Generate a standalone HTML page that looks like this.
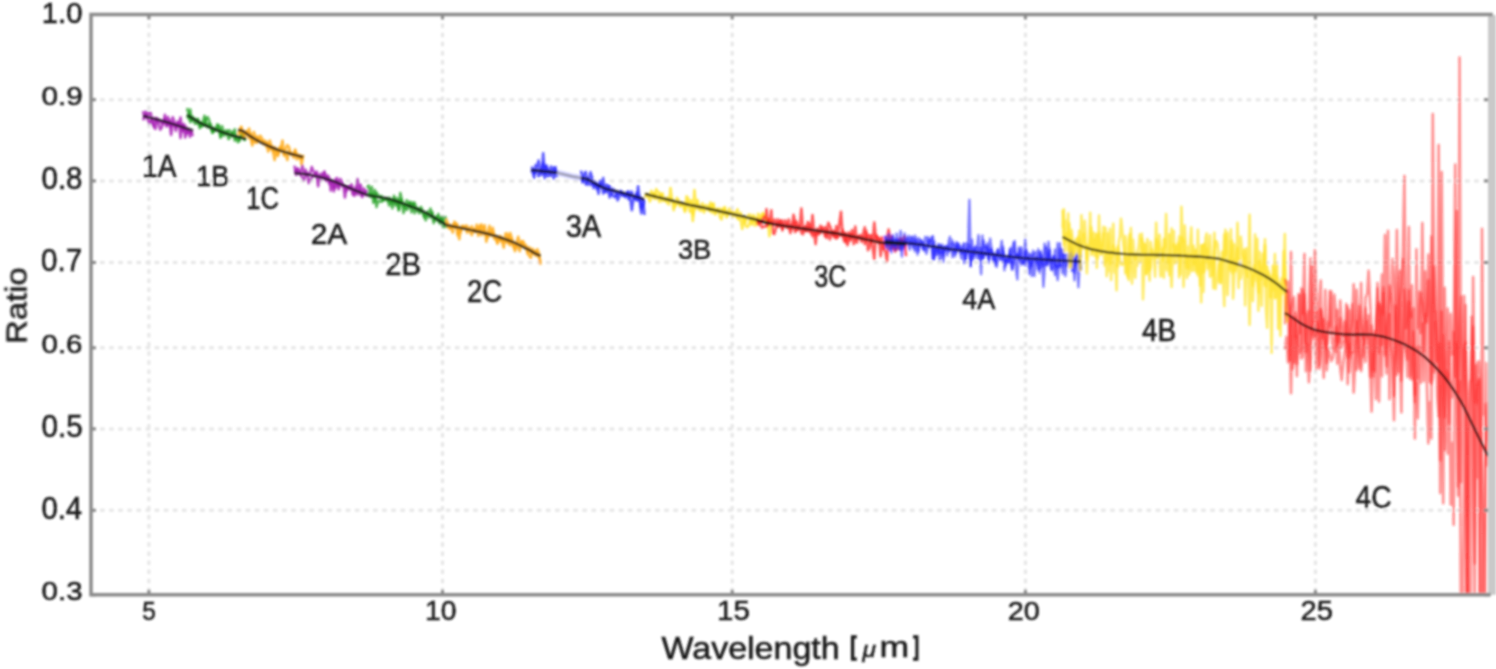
<!DOCTYPE html>
<html><head><meta charset="utf-8"><style>
html,body{margin:0;padding:0;background:#fff;width:1496px;height:669px;overflow:hidden}
svg{display:block;font-family:"Liberation Sans",sans-serif}
.g{stroke:#e5e5e5;stroke-width:3;stroke-dasharray:4.5 4.6}
.n{fill:none;stroke-linejoin:round}
.f{fill:none;stroke:#111;stroke-opacity:0.82}
.t{stroke:#888;stroke-width:3}
.sp{fill:none;stroke:#8a8a8a;stroke-width:3.5;stroke-linecap:square}
.tx{font-size:31px;fill:#181818;stroke:#181818;stroke-width:0.5}
</style></head><body>
<svg width="1496" height="669" viewBox="0 0 1496 669">
<defs><filter id="bl" x="-2%" y="-2%" width="104%" height="104%"><feGaussianBlur stdDeviation="0.8"/></filter>
<clipPath id="cp"><rect x="91.0" y="14.5" width="1398.0" height="580.3"/></clipPath></defs>
<rect width="1496" height="669" fill="#fff"/>
<g filter="url(#bl)">
<line x1="91.0" y1="99.7" x2="1489.0" y2="99.7" class="g"/>
<line x1="91.0" y1="180.9" x2="1489.0" y2="180.9" class="g"/>
<line x1="91.0" y1="262.5" x2="1489.0" y2="262.5" class="g"/>
<line x1="91.0" y1="347.8" x2="1489.0" y2="347.8" class="g"/>
<line x1="91.0" y1="428.9" x2="1489.0" y2="428.9" class="g"/>
<line x1="91.0" y1="510.3" x2="1489.0" y2="510.3" class="g"/>
<line x1="148.9" y1="14.5" x2="148.9" y2="594.8" class="g"/>
<line x1="442.5" y1="14.5" x2="442.5" y2="594.8" class="g"/>
<line x1="732.2" y1="14.5" x2="732.2" y2="594.8" class="g"/>
<line x1="1025.4" y1="14.5" x2="1025.4" y2="594.8" class="g"/>
<line x1="1315.4" y1="14.5" x2="1315.4" y2="594.8" class="g"/>
<g clip-path="url(#cp)">
<path d="M143.0,111.1 L144.6,117.7 L146.1,111.6 L147.7,116.8 L149.2,112.8 L150.8,113.0 L152.4,124.1 L153.9,127.3 L155.5,128.9 L157.1,118.4 L158.6,120.3 L160.2,121.6 L161.8,123.2 L163.3,123.9 L164.9,114.9 L166.4,124.8 L168.0,117.0 L169.6,123.1 L171.1,134.9 L172.7,123.9 L174.2,123.4 L175.8,127.5 L177.4,125.9 L178.9,122.2 L180.5,137.9 L182.1,125.1 L183.6,131.2 L185.2,125.8 L186.8,133.4 L188.3,131.5 L189.9,132.5 L191.4,131.9 L193.0,132.7" stroke="#a61cb4" stroke-opacity="0.8" stroke-width="2.6" class="n"/>
<path d="M143.0,120.2 L144.6,116.9 L146.1,114.4 L147.7,119.3 L149.2,123.2 L150.8,120.8 L152.4,120.9 L153.9,125.4 L155.5,117.9 L157.1,120.5 L158.6,123.6 L160.2,129.6 L161.8,127.5 L163.3,121.7 L164.9,118.3 L166.4,126.4 L168.0,125.3 L169.6,120.2 L171.1,126.6 L172.7,117.2 L174.2,121.1 L175.8,130.9 L177.4,121.7 L178.9,125.4 L180.5,117.5 L182.1,130.9 L183.6,124.1 L185.2,137.5 L186.8,130.9 L188.3,128.8 L189.9,136.7 L191.4,132.8 L193.0,136.0" stroke="#a61cb4" stroke-opacity="0.8" stroke-width="2.6" class="n"/>
<path d="M187.0,108.1 L188.6,113.3 L190.2,122.1 L191.8,116.7 L193.4,117.7 L195.0,120.4 L196.6,119.0 L198.2,120.9 L199.8,128.1 L201.4,122.7 L202.9,125.6 L204.5,125.7 L206.1,118.9 L207.7,117.1 L209.3,120.9 L210.9,128.4 L212.5,132.7 L214.1,131.2 L215.7,129.2 L217.3,124.4 L218.9,127.5 L220.5,136.2 L222.1,126.3 L223.7,136.0 L225.3,130.6 L226.9,131.1 L228.5,139.0 L230.1,137.4 L231.6,134.7 L233.2,132.0 L234.8,129.4 L236.4,139.2 L238.0,142.1 L239.6,138.3 L241.2,136.4 L242.8,134.0 L244.4,138.6 L246.0,139.6" stroke="#1c9c1c" stroke-opacity="0.75" stroke-width="2.6" class="n"/>
<path d="M187.0,115.7 L188.6,118.2 L190.2,109.5 L191.8,120.8 L193.4,120.2 L195.0,123.7 L196.6,123.6 L198.2,119.2 L199.8,125.5 L201.4,126.7 L202.9,121.9 L204.5,115.9 L206.1,122.7 L207.7,127.3 L209.3,123.9 L210.9,124.6 L212.5,132.6 L214.1,128.0 L215.7,130.5 L217.3,129.5 L218.9,125.3 L220.5,137.8 L222.1,131.3 L223.7,132.9 L225.3,133.9 L226.9,134.6 L228.5,130.4 L230.1,130.7 L231.6,134.2 L233.2,133.4 L234.8,140.4 L236.4,136.9 L238.0,136.5 L239.6,140.9 L241.2,133.0 L242.8,134.0 L244.4,139.9 L246.0,138.1" stroke="#1c9c1c" stroke-opacity="0.75" stroke-width="2.6" class="n"/>
<path d="M238.0,132.9 L239.6,133.2 L241.2,126.9 L242.8,134.6 L244.4,136.1 L246.0,131.7 L247.5,133.0 L249.1,128.5 L250.7,138.4 L252.3,145.5 L253.9,132.0 L255.5,137.9 L257.1,142.5 L258.7,138.4 L260.3,135.8 L261.9,138.2 L263.4,144.1 L265.0,143.1 L266.6,141.8 L268.2,151.6 L269.8,140.5 L271.4,146.7 L273.0,152.1 L274.6,147.1 L276.2,150.0 L277.8,154.4 L279.3,147.4 L280.9,147.3 L282.5,150.0 L284.1,155.3 L285.7,154.2 L287.3,159.9 L288.9,150.9 L290.5,152.6 L292.1,153.4 L293.7,154.0 L295.2,149.5 L296.8,159.4 L298.4,155.4 L300.0,155.0 L301.6,165.1 L303.2,154.9" stroke="#ffaa1a" stroke-opacity="0.85" stroke-width="2.6" class="n"/>
<path d="M238.0,132.8 L239.6,133.1 L241.2,127.1 L242.8,131.6 L244.4,133.9 L246.0,131.1 L247.5,135.2 L249.1,138.0 L250.7,133.2 L252.3,141.7 L253.9,141.8 L255.5,142.6 L257.1,136.3 L258.7,140.4 L260.3,139.8 L261.9,142.4 L263.4,140.6 L265.0,140.8 L266.6,146.9 L268.2,143.7 L269.8,149.3 L271.4,145.4 L273.0,150.7 L274.6,160.0 L276.2,149.6 L277.8,155.9 L279.3,152.3 L280.9,147.4 L282.5,140.5 L284.1,155.2 L285.7,148.9 L287.3,145.1 L288.9,146.8 L290.5,153.5 L292.1,154.7 L293.7,157.7 L295.2,150.7 L296.8,154.0 L298.4,156.9 L300.0,158.7 L301.6,158.3 L303.2,156.4" stroke="#ffaa1a" stroke-opacity="0.85" stroke-width="2.6" class="n"/>
<path d="M294.5,165.6 L296.1,174.9 L297.7,168.7 L299.2,172.4 L300.8,171.1 L302.4,165.8 L304.0,173.7 L305.5,169.8 L307.1,173.7 L308.7,174.6 L310.3,172.6 L311.8,167.1 L313.4,171.5 L315.0,173.0 L316.6,175.8 L318.1,186.1 L319.7,178.8 L321.3,173.5 L322.9,175.4 L324.4,171.5 L326.0,178.5 L327.6,177.6 L329.2,183.7 L330.8,180.5 L332.3,182.0 L333.9,191.4 L335.5,179.1 L337.1,178.1 L338.6,189.3 L340.2,184.0 L341.8,185.5 L343.4,185.2 L344.9,185.6 L346.5,190.9 L348.1,186.0 L349.7,189.4 L351.2,184.0 L352.8,187.8 L354.4,195.8 L356.0,190.4 L357.5,179.0 L359.1,187.9 L360.7,194.9 L362.3,197.0 L363.8,192.7 L365.4,193.5 L367.0,189.7" stroke="#a61cb4" stroke-opacity="0.8" stroke-width="2.6" class="n"/>
<path d="M294.5,171.9 L296.1,169.9 L297.7,168.6 L299.2,173.2 L300.8,175.2 L302.4,177.9 L304.0,180.1 L305.5,174.2 L307.1,173.0 L308.7,183.1 L310.3,179.1 L311.8,178.5 L313.4,175.1 L315.0,175.1 L316.6,171.6 L318.1,175.0 L319.7,175.8 L321.3,177.8 L322.9,179.2 L324.4,172.4 L326.0,181.0 L327.6,175.4 L329.2,177.6 L330.8,190.6 L332.3,180.7 L333.9,188.1 L335.5,187.8 L337.1,180.6 L338.6,185.9 L340.2,179.0 L341.8,181.4 L343.4,185.4 L344.9,197.5 L346.5,188.1 L348.1,187.7 L349.7,186.7 L351.2,187.4 L352.8,194.6 L354.4,193.1 L356.0,187.3 L357.5,194.5 L359.1,191.6 L360.7,184.8 L362.3,195.2 L363.8,188.5 L365.4,191.6 L367.0,196.4" stroke="#a61cb4" stroke-opacity="0.8" stroke-width="2.6" class="n"/>
<path d="M367.0,188.2 L368.6,185.4 L370.2,195.4 L371.8,186.9 L373.4,202.8 L374.9,201.1 L376.5,192.5 L378.1,195.2 L379.7,197.5 L381.3,196.0 L382.9,200.8 L384.5,199.7 L386.1,197.9 L387.6,200.8 L389.2,197.7 L390.8,201.0 L392.4,208.2 L394.0,195.8 L395.6,202.1 L397.2,198.3 L398.8,209.8 L400.3,199.2 L401.9,200.7 L403.5,206.6 L405.1,206.1 L406.7,209.8 L408.3,208.2 L409.9,201.7 L411.5,212.2 L413.1,205.1 L414.6,202.9 L416.2,207.1 L417.8,209.6 L419.4,208.4 L421.0,211.9 L422.6,212.1 L424.2,216.9 L425.8,215.7 L427.3,211.8 L428.9,212.1 L430.5,208.7 L432.1,215.4 L433.7,223.1 L435.3,217.0 L436.9,218.1 L438.5,214.0 L440.0,223.9 L441.6,216.9 L443.2,227.3 L444.8,216.8 L446.4,218.8" stroke="#1c9c1c" stroke-opacity="0.75" stroke-width="2.6" class="n"/>
<path d="M367.0,194.1 L368.6,193.3 L370.2,196.7 L371.8,194.1 L373.4,197.9 L374.9,190.1 L376.5,206.9 L378.1,201.4 L379.7,201.1 L381.3,201.7 L382.9,199.5 L384.5,199.9 L386.1,198.8 L387.6,199.3 L389.2,205.4 L390.8,200.8 L392.4,202.9 L394.0,198.5 L395.6,205.6 L397.2,201.0 L398.8,210.4 L400.3,193.0 L401.9,200.3 L403.5,213.0 L405.1,207.4 L406.7,200.2 L408.3,204.7 L409.9,202.4 L411.5,204.3 L413.1,202.4 L414.6,213.1 L416.2,209.8 L417.8,211.1 L419.4,213.1 L421.0,207.0 L422.6,210.7 L424.2,216.9 L425.8,220.2 L427.3,213.7 L428.9,217.3 L430.5,217.0 L432.1,211.9 L433.7,217.8 L435.3,220.3 L436.9,216.5 L438.5,221.7 L440.0,220.3 L441.6,217.4 L443.2,221.8 L444.8,222.8 L446.4,228.2" stroke="#1c9c1c" stroke-opacity="0.75" stroke-width="2.6" class="n"/>
<path d="M446.4,219.1 L448.0,226.6 L449.6,228.7 L451.2,228.4 L452.8,232.5 L454.4,221.8 L456.0,226.3 L457.6,224.6 L459.2,239.2 L460.8,228.7 L462.3,225.9 L463.9,226.5 L465.5,227.9 L467.1,232.6 L468.7,229.5 L470.3,232.5 L471.9,235.0 L473.5,228.9 L475.1,231.7 L476.7,229.7 L478.3,228.9 L479.9,226.4 L481.5,235.1 L483.1,228.2 L484.7,234.2 L486.3,235.2 L487.9,237.6 L489.5,232.3 L491.1,235.5 L492.7,227.8 L494.2,235.0 L495.8,236.5 L497.4,243.7 L499.0,236.3 L500.6,241.2 L502.2,238.6 L503.8,241.8 L505.4,241.7 L507.0,242.4 L508.6,235.5 L510.2,245.3 L511.8,238.7 L513.4,246.4 L515.0,248.0 L516.6,242.0 L518.2,236.8 L519.8,243.3 L521.4,244.0 L523.0,241.1 L524.6,244.6 L526.1,245.4 L527.7,252.8 L529.3,256.0 L530.9,257.8 L532.5,248.8 L534.1,251.5 L535.7,255.9 L537.3,249.3 L538.9,253.1 L540.5,264.8" stroke="#ffaa1a" stroke-opacity="0.85" stroke-width="2.6" class="n"/>
<path d="M446.4,226.2 L448.0,223.2 L449.6,228.0 L451.2,226.5 L452.8,224.6 L454.4,223.9 L456.0,223.2 L457.6,235.3 L459.2,229.0 L460.8,232.1 L462.3,226.1 L463.9,227.6 L465.5,225.7 L467.1,225.9 L468.7,228.5 L470.3,228.0 L471.9,226.3 L473.5,231.3 L475.1,231.2 L476.7,224.7 L478.3,235.7 L479.9,225.4 L481.5,224.5 L483.1,229.3 L484.7,225.3 L486.3,241.7 L487.9,232.6 L489.5,225.9 L491.1,234.8 L492.7,231.8 L494.2,238.7 L495.8,239.2 L497.4,242.5 L499.0,239.1 L500.6,236.2 L502.2,241.9 L503.8,247.6 L505.4,233.7 L507.0,233.4 L508.6,243.9 L510.2,233.0 L511.8,238.1 L513.4,245.9 L515.0,251.2 L516.6,243.8 L518.2,247.9 L519.8,251.1 L521.4,241.3 L523.0,244.3 L524.6,246.9 L526.1,246.7 L527.7,253.8 L529.3,247.3 L530.9,251.5 L532.5,254.0 L534.1,251.1 L535.7,251.0 L537.3,254.9 L538.9,257.0 L540.5,261.8" stroke="#ffaa1a" stroke-opacity="0.85" stroke-width="2.6" class="n"/>
<path d="M531.0,172.2 L532.5,170.9 L534.1,177.9 L535.6,165.1 L537.1,167.0 L538.6,160.6 L540.2,171.6 L541.7,175.0 L543.2,153.4 L544.8,174.4 L546.3,166.8 L547.8,176.6 L549.4,172.4 L550.9,175.9 L552.4,171.1 L553.9,178.8 L555.5,167.3 L557.0,177.4" stroke="#2424ff" stroke-opacity="0.75" stroke-width="2.6" class="n"/>
<path d="M531.0,167.1 L532.5,168.0 L534.1,173.6 L535.6,172.5 L537.1,169.6 L538.6,176.5 L540.2,172.1 L541.7,171.0 L543.2,163.3 L544.8,178.4 L546.3,165.3 L547.8,169.4 L549.4,173.0 L550.9,166.6 L552.4,170.0 L553.9,167.3 L555.5,173.0 L557.0,170.0" stroke="#2424ff" stroke-opacity="0.75" stroke-width="2.6" class="n"/>
<path d="M581.0,170.6 L582.6,181.2 L584.2,179.0 L585.8,184.2 L587.4,178.1 L588.9,180.0 L590.5,172.3 L592.1,177.5 L593.7,188.1 L595.3,184.2 L596.9,183.8 L598.5,193.8 L600.0,180.9 L601.6,184.6 L603.2,193.5 L604.8,191.7 L606.4,184.7 L608.0,185.4 L609.6,197.4 L611.2,194.9 L612.8,194.5 L614.3,197.2 L615.9,195.9 L617.5,193.5 L619.1,193.5 L620.7,192.2 L622.3,195.6 L623.9,193.1 L625.5,197.2 L627.0,195.0 L628.6,191.3 L630.2,197.6 L631.8,210.2 L633.4,199.4 L635.0,196.8 L636.6,200.6 L638.1,186.2 L639.7,200.7 L641.3,213.4 L642.9,198.2 L644.5,215.0" stroke="#2424ff" stroke-opacity="0.75" stroke-width="2.6" class="n"/>
<path d="M581.0,176.7 L582.6,182.3 L584.2,173.9 L585.8,171.9 L587.4,184.9 L588.9,181.0 L590.5,185.0 L592.1,183.3 L593.7,185.3 L595.3,181.7 L596.9,189.3 L598.5,187.5 L600.0,183.9 L601.6,185.5 L603.2,178.1 L604.8,189.9 L606.4,192.3 L608.0,188.6 L609.6,186.1 L611.2,194.4 L612.8,188.8 L614.3,191.8 L615.9,190.8 L617.5,200.3 L619.1,197.1 L620.7,190.9 L622.3,192.7 L623.9,196.0 L625.5,195.4 L627.0,192.2 L628.6,199.3 L630.2,194.0 L631.8,191.7 L633.4,197.9 L635.0,199.0 L636.6,192.8 L638.1,200.1 L639.7,196.7 L641.3,208.6 L642.9,206.0 L644.5,200.7" stroke="#2424ff" stroke-opacity="0.75" stroke-width="2.6" class="n"/>
<path d="M645.0,197.5 L646.6,193.9 L648.2,196.1 L649.8,201.5 L651.4,197.7 L653.0,193.7 L654.6,192.6 L656.2,198.6 L657.8,194.8 L659.4,201.9 L660.9,194.1 L662.5,201.1 L664.1,198.9 L665.7,201.0 L667.3,202.8 L668.9,204.4 L670.5,188.0 L672.1,199.9 L673.7,210.2 L675.3,203.2 L676.9,197.9 L678.5,199.9 L680.1,206.6 L681.7,203.7 L683.3,203.0 L684.9,210.1 L686.5,196.4 L688.1,197.7 L689.7,211.7 L691.3,202.7 L692.8,221.0 L694.4,208.2 L696.0,209.2 L697.6,200.0 L699.2,210.1 L700.8,210.9 L702.4,209.8 L704.0,207.4 L705.6,205.1 L707.2,205.7 L708.8,206.4 L710.4,211.1 L712.0,203.9 L713.6,208.1 L715.2,214.0 L716.8,209.9 L718.4,208.4 L720.0,217.5 L721.6,219.3 L723.2,210.3 L724.7,207.0 L726.3,213.1 L727.9,213.1 L729.5,208.3 L731.1,212.6 L732.7,216.5 L734.3,216.0 L735.9,215.5 L737.5,218.7 L739.1,218.6 L740.7,220.4 L742.3,228.9 L743.9,216.6 L745.5,222.1 L747.1,216.8 L748.7,214.7 L750.3,214.7 L751.9,224.8 L753.5,215.1 L755.1,217.7 L756.6,223.5 L758.2,213.7 L759.8,219.2 L761.4,215.0 L763.0,213.0 L764.6,216.9 L766.2,220.8 L767.8,219.0 L769.4,236.1 L771.0,218.9" stroke="#ffe326" stroke-opacity="0.8" stroke-width="2.6" class="n"/>
<path d="M645.0,194.9 L646.6,195.2 L648.2,196.9 L649.8,195.0 L651.4,190.9 L653.0,194.7 L654.6,198.9 L656.2,189.1 L657.8,191.9 L659.4,192.7 L660.9,196.1 L662.5,193.4 L664.1,199.7 L665.7,200.9 L667.3,197.4 L668.9,200.3 L670.5,198.2 L672.1,199.8 L673.7,201.8 L675.3,206.3 L676.9,203.4 L678.5,202.8 L680.1,205.1 L681.7,204.4 L683.3,206.0 L684.9,211.9 L686.5,207.6 L688.1,200.6 L689.7,201.7 L691.3,200.4 L692.8,214.5 L694.4,190.0 L696.0,205.3 L697.6,203.9 L699.2,208.0 L700.8,208.3 L702.4,203.2 L704.0,212.5 L705.6,208.7 L707.2,208.3 L708.8,210.6 L710.4,202.6 L712.0,212.9 L713.6,203.5 L715.2,214.3 L716.8,209.3 L718.4,211.8 L720.0,210.8 L721.6,208.6 L723.2,214.7 L724.7,208.5 L726.3,217.3 L727.9,216.2 L729.5,211.4 L731.1,213.7 L732.7,211.3 L734.3,213.4 L735.9,212.5 L737.5,209.2 L739.1,219.2 L740.7,212.9 L742.3,218.4 L743.9,219.1 L745.5,225.4 L747.1,227.1 L748.7,225.7 L750.3,219.1 L751.9,222.9 L753.5,218.1 L755.1,225.7 L756.6,221.5 L758.2,223.9 L759.8,218.0 L761.4,218.1 L763.0,215.0 L764.6,216.2 L766.2,217.1 L767.8,222.8 L769.4,221.8 L771.0,219.7" stroke="#ffe326" stroke-opacity="0.8" stroke-width="2.6" class="n"/>
<path d="M757.0,218.1 L758.6,222.9 L760.2,220.1 L761.8,221.4 L763.3,217.0 L764.9,219.0 L766.5,209.3 L768.1,225.7 L769.7,222.2 L771.3,210.3 L772.9,233.4 L774.4,233.9 L776.0,228.0 L777.6,219.4 L779.2,226.7 L780.8,220.3 L782.4,230.4 L783.9,220.7 L785.5,220.8 L787.1,227.9 L788.7,225.3 L790.3,233.1 L791.9,228.2 L793.5,222.1 L795.0,232.1 L796.6,221.6 L798.2,228.6 L799.8,225.7 L801.4,208.6 L803.0,229.5 L804.6,230.9 L806.1,231.0 L807.7,222.1 L809.3,223.1 L810.9,231.5 L812.5,236.1 L814.1,232.4 L815.6,244.1 L817.2,228.6 L818.8,234.3 L820.4,225.7 L822.0,227.2 L823.6,229.9 L825.2,227.1 L826.7,237.9 L828.3,230.1 L829.9,239.5 L831.5,232.5 L833.1,231.3 L834.7,237.6 L836.3,226.0 L837.8,237.6 L839.4,223.3 L841.0,211.8 L842.6,235.1 L844.2,241.3 L845.8,233.1 L847.4,245.3 L848.9,240.5 L850.5,234.3 L852.1,234.9 L853.7,237.4 L855.3,226.6 L856.9,242.7 L858.4,236.2 L860.0,235.1 L861.6,242.0 L863.2,236.6 L864.8,244.1 L866.4,231.4 L868.0,250.1 L869.5,247.6 L871.1,235.4 L872.7,247.7 L874.3,259.2 L875.9,234.8 L877.5,237.6 L879.1,243.2 L880.6,239.4 L882.2,237.2 L883.8,248.9 L885.4,242.8 L887.0,238.4 L888.6,229.6 L890.1,238.1 L891.7,248.7 L893.3,245.2 L894.9,249.4 L896.5,243.8 L898.1,242.0 L899.7,238.6 L901.2,238.8 L902.8,243.2 L904.4,236.4 L906.0,256.2" stroke="#ff2424" stroke-opacity="0.75" stroke-width="2.6" class="n"/>
<path d="M757.0,221.4 L758.6,224.9 L760.2,221.8 L761.8,227.5 L763.3,226.9 L764.9,226.3 L766.5,226.6 L768.1,219.3 L769.7,223.0 L771.3,222.3 L772.9,224.7 L774.4,219.7 L776.0,222.8 L777.6,226.3 L779.2,223.0 L780.8,220.3 L782.4,229.0 L783.9,225.3 L785.5,226.4 L787.1,225.6 L788.7,219.5 L790.3,228.9 L791.9,227.3 L793.5,214.8 L795.0,220.6 L796.6,230.7 L798.2,229.5 L799.8,225.6 L801.4,232.9 L803.0,234.1 L804.6,226.9 L806.1,226.1 L807.7,231.6 L809.3,226.3 L810.9,233.3 L812.5,215.0 L814.1,232.3 L815.6,235.6 L817.2,232.8 L818.8,231.3 L820.4,233.2 L822.0,228.2 L823.6,232.0 L825.2,236.5 L826.7,232.7 L828.3,222.8 L829.9,226.2 L831.5,230.2 L833.1,235.8 L834.7,231.1 L836.3,238.4 L837.8,235.7 L839.4,234.7 L841.0,235.7 L842.6,230.0 L844.2,233.3 L845.8,242.5 L847.4,237.7 L848.9,232.3 L850.5,240.3 L852.1,230.1 L853.7,244.2 L855.3,239.5 L856.9,236.8 L858.4,237.0 L860.0,237.7 L861.6,238.2 L863.2,233.2 L864.8,227.3 L866.4,240.7 L868.0,235.0 L869.5,235.5 L871.1,242.6 L872.7,240.7 L874.3,222.5 L875.9,238.6 L877.5,236.9 L879.1,238.0 L880.6,256.2 L882.2,244.1 L883.8,248.9 L885.4,251.8 L887.0,261.2 L888.6,239.3 L890.1,245.9 L891.7,236.6 L893.3,244.1 L894.9,251.6 L896.5,249.9 L898.1,245.6 L899.7,249.3 L901.2,239.4 L902.8,241.2 L904.4,247.4 L906.0,240.8" stroke="#ff2424" stroke-opacity="0.75" stroke-width="2.6" class="n"/>
<path d="M885.0,245.4 L886.3,240.6 L887.6,240.7 L888.9,249.5 L890.2,250.2 L891.5,245.4 L892.8,235.3 L894.1,244.8 L895.4,246.8 L896.7,239.1 L898.0,242.3 L899.3,240.0 L900.6,250.3 L901.9,244.4 L903.2,241.2 L904.5,245.5 L905.8,243.8 L907.1,240.9 L908.4,245.3 L909.7,249.6 L911.0,244.2 L912.3,236.7 L913.6,241.9 L914.9,239.3 L916.2,241.4 L917.5,254.6 L918.7,244.4 L920.0,245.7 L921.3,243.7 L922.6,249.0 L923.9,244.5 L925.2,249.8 L926.5,247.8 L927.8,243.4 L929.1,240.7 L930.4,241.8 L931.7,239.8 L933.0,236.2 L934.3,259.2 L935.6,251.4 L936.9,247.8 L938.2,253.5 L939.5,253.9 L940.8,245.5 L942.1,249.5 L943.4,262.2 L944.7,247.1 L946.0,246.7 L947.3,246.1 L948.6,247.8 L949.9,250.5 L951.2,247.8 L952.5,257.0 L953.8,251.0 L955.1,256.2 L956.4,242.2 L957.7,246.6 L959.0,249.7 L960.3,246.7 L961.6,250.6 L962.9,248.5 L964.2,251.1 L965.5,259.0 L966.8,250.0 L968.1,246.8 L969.4,200.0 L970.7,265.9 L972.0,247.8 L973.3,259.7 L974.6,253.2 L975.9,246.3 L977.2,247.3 L978.5,235.2 L979.8,251.0 L981.1,274.1 L982.4,235.6 L983.6,258.6 L984.9,245.6 L986.2,255.0 L987.5,243.1 L988.8,259.5 L990.1,238.6 L991.4,247.9 L992.7,260.5 L994.0,254.0 L995.3,265.1 L996.6,252.0 L997.9,249.3 L999.2,257.4 L1000.5,259.6 L1001.8,257.2 L1003.1,250.5 L1004.4,255.5 L1005.7,266.0 L1007.0,258.7 L1008.3,261.9 L1009.6,255.3 L1010.9,247.7 L1012.2,269.3 L1013.5,263.8 L1014.8,241.1 L1016.1,270.4 L1017.4,279.3 L1018.7,247.5 L1020.0,261.4 L1021.3,247.2 L1022.6,254.2 L1023.9,262.9 L1025.2,239.3 L1026.5,260.7 L1027.8,256.7 L1029.1,260.7 L1030.4,263.5 L1031.7,276.0 L1033.0,250.7 L1034.3,276.0 L1035.6,264.5 L1036.9,257.7 L1038.2,269.8 L1039.5,252.2 L1040.8,257.0 L1042.1,262.7 L1043.4,264.7 L1044.7,265.4 L1046.0,258.2 L1047.3,265.2 L1048.5,251.6 L1049.8,257.8 L1051.1,263.6 L1052.4,259.2 L1053.7,256.0 L1055.0,275.0 L1056.3,264.8 L1057.6,267.5 L1058.9,267.2 L1060.2,243.1 L1061.5,266.6 L1062.8,254.4 L1064.1,262.8 L1065.4,260.5 L1066.7,266.3 L1068.0,262.7 L1069.3,261.4 L1070.6,262.9 L1071.9,251.0 L1073.2,261.2 L1074.5,280.4 L1075.8,262.0 L1077.1,256.4 L1078.4,256.8 L1079.7,258.8 L1081.0,270.1" stroke="#2424ff" stroke-opacity="0.6" stroke-width="2.4" class="n"/>
<path d="M885.0,235.6 L886.3,244.2 L887.6,244.4 L888.9,239.5 L890.2,243.7 L891.5,239.6 L892.8,241.0 L894.1,244.9 L895.4,239.4 L896.7,240.6 L898.0,248.7 L899.3,246.9 L900.6,230.9 L901.9,242.8 L903.2,248.9 L904.5,242.9 L905.8,239.1 L907.1,238.8 L908.4,235.8 L909.7,244.2 L911.0,241.4 L912.3,244.4 L913.6,248.4 L914.9,235.7 L916.2,238.5 L917.5,244.1 L918.7,238.3 L920.0,245.0 L921.3,239.9 L922.6,244.8 L923.9,250.1 L925.2,237.0 L926.5,241.7 L927.8,236.9 L929.1,247.0 L930.4,242.9 L931.7,247.4 L933.0,259.1 L934.3,241.4 L935.6,255.3 L936.9,254.6 L938.2,244.1 L939.5,260.1 L940.8,258.1 L942.1,251.4 L943.4,256.3 L944.7,246.3 L946.0,246.5 L947.3,255.4 L948.6,241.9 L949.9,237.0 L951.2,243.6 L952.5,240.5 L953.8,253.3 L955.1,251.0 L956.4,246.1 L957.7,247.8 L959.0,243.9 L960.3,253.8 L961.6,258.7 L962.9,244.5 L964.2,263.4 L965.5,259.4 L966.8,248.9 L968.1,249.1 L969.4,256.1 L970.7,264.4 L972.0,254.8 L973.3,251.9 L974.6,247.8 L975.9,252.7 L977.2,258.6 L978.5,248.3 L979.8,259.6 L981.1,247.9 L982.4,256.9 L983.6,256.8 L984.9,252.7 L986.2,254.3 L987.5,246.3 L988.8,258.6 L990.1,251.5 L991.4,250.5 L992.7,253.8 L994.0,260.4 L995.3,262.8 L996.6,254.2 L997.9,250.0 L999.2,253.5 L1000.5,249.1 L1001.8,240.9 L1003.1,259.0 L1004.4,261.8 L1005.7,258.9 L1007.0,262.3 L1008.3,262.7 L1009.6,249.4 L1010.9,263.6 L1012.2,269.5 L1013.5,260.8 L1014.8,256.1 L1016.1,257.6 L1017.4,254.6 L1018.7,258.4 L1020.0,249.4 L1021.3,258.8 L1022.6,263.3 L1023.9,263.1 L1025.2,251.7 L1026.5,257.9 L1027.8,257.9 L1029.1,273.9 L1030.4,254.1 L1031.7,265.7 L1033.0,254.1 L1034.3,254.2 L1035.6,252.0 L1036.9,261.9 L1038.2,249.3 L1039.5,272.7 L1040.8,251.4 L1042.1,267.2 L1043.4,256.9 L1044.7,243.8 L1046.0,250.9 L1047.3,265.0 L1048.5,241.9 L1049.8,255.4 L1051.1,269.6 L1052.4,261.1 L1053.7,256.6 L1055.0,257.1 L1056.3,267.1 L1057.6,280.0 L1058.9,268.2 L1060.2,248.9 L1061.5,257.9 L1062.8,249.5 L1064.1,260.6 L1065.4,275.8 L1066.7,266.0 L1068.0,260.6 L1069.3,258.5 L1070.6,244.3 L1071.9,253.1 L1073.2,259.7 L1074.5,272.6 L1075.8,254.9 L1077.1,257.9 L1078.4,264.1 L1079.7,240.5 L1081.0,257.5" stroke="#2424ff" stroke-opacity="0.6" stroke-width="2.4" class="n"/>
<path d="M885.0,235.9 L886.3,247.9 L887.6,238.5 L888.9,234.2 L890.2,240.8 L891.5,252.5 L892.8,236.5 L894.1,247.2 L895.4,250.3 L896.7,233.6 L898.0,243.8 L899.3,243.8 L900.6,241.9 L901.9,256.5 L903.2,247.1 L904.5,233.5 L905.8,241.5 L907.1,238.6 L908.4,238.8 L909.7,244.1 L911.0,237.0 L912.3,240.6 L913.6,245.1 L914.9,251.3 L916.2,241.0 L917.5,249.2 L918.7,251.5 L920.0,240.5 L921.3,243.7 L922.6,241.4 L923.9,245.9 L925.2,250.5 L926.5,253.7 L927.8,248.2 L929.1,239.0 L930.4,241.7 L931.7,236.9 L933.0,259.5 L934.3,252.3 L935.6,247.9 L936.9,249.1 L938.2,251.4 L939.5,244.8 L940.8,253.5 L942.1,244.7 L943.4,252.4 L944.7,248.3 L946.0,249.6 L947.3,248.4 L948.6,251.7 L949.9,244.3 L951.2,248.9 L952.5,243.5 L953.8,243.9 L955.1,245.0 L956.4,253.0 L957.7,243.3 L959.0,249.0 L960.3,250.6 L961.6,253.5 L962.9,253.2 L964.2,243.3 L965.5,259.2 L966.8,243.3 L968.1,251.2 L969.4,245.2 L970.7,266.4 L972.0,239.8 L973.3,256.5 L974.6,254.5 L975.9,247.4 L977.2,252.0 L978.5,255.4 L979.8,252.5 L981.1,257.2 L982.4,258.8 L983.6,240.5 L984.9,248.1 L986.2,247.1 L987.5,249.5 L988.8,263.0 L990.1,248.9 L991.4,249.1 L992.7,253.0 L994.0,260.0 L995.3,255.4 L996.6,266.9 L997.9,261.1 L999.2,252.7 L1000.5,254.5 L1001.8,260.8 L1003.1,246.9 L1004.4,270.2 L1005.7,259.3 L1007.0,261.1 L1008.3,257.4 L1009.6,254.6 L1010.9,262.6 L1012.2,251.3 L1013.5,242.4 L1014.8,251.6 L1016.1,255.0 L1017.4,256.6 L1018.7,253.7 L1020.0,258.2 L1021.3,264.7 L1022.6,263.0 L1023.9,260.3 L1025.2,265.7 L1026.5,250.2 L1027.8,254.1 L1029.1,254.0 L1030.4,268.1 L1031.7,262.4 L1033.0,260.8 L1034.3,259.5 L1035.6,257.2 L1036.9,263.5 L1038.2,263.6 L1039.5,268.8 L1040.8,254.9 L1042.1,257.5 L1043.4,286.7 L1044.7,268.2 L1046.0,247.3 L1047.3,263.3 L1048.5,260.9 L1049.8,249.4 L1051.1,267.6 L1052.4,270.3 L1053.7,266.7 L1055.0,249.7 L1056.3,267.6 L1057.6,243.2 L1058.9,266.3 L1060.2,265.6 L1061.5,264.7 L1062.8,273.6 L1064.1,254.3 L1065.4,259.3 L1066.7,254.1 L1068.0,260.1 L1069.3,257.6 L1070.6,254.1 L1071.9,271.0 L1073.2,255.2 L1074.5,266.1 L1075.8,259.9 L1077.1,253.7 L1078.4,287.1 L1079.7,260.2 L1081.0,269.6" stroke="#2424ff" stroke-opacity="0.6" stroke-width="2.4" class="n"/>
<path d="M1062.7,227.8 L1063.8,209.4 L1064.9,251.5 L1066.0,220.9 L1067.1,237.7 L1068.2,213.6 L1069.3,267.7 L1070.4,233.8 L1071.5,266.9 L1072.6,242.1 L1073.7,251.1 L1074.8,253.9 L1075.9,244.8 L1077.0,239.7 L1078.1,236.8 L1079.2,261.7 L1080.3,270.3 L1081.4,215.2 L1082.5,243.5 L1083.6,238.7 L1084.7,220.7 L1085.8,237.7 L1086.9,260.0 L1088.0,248.4 L1089.1,245.3 L1090.2,245.0 L1091.3,227.4 L1092.4,252.0 L1093.5,239.1 L1094.6,255.7 L1095.7,249.4 L1096.8,235.0 L1097.9,258.0 L1099.0,215.5 L1100.1,253.0 L1101.2,254.4 L1102.3,249.2 L1103.4,233.5 L1104.5,265.4 L1105.6,254.2 L1106.7,261.6 L1107.8,233.2 L1108.9,247.6 L1110.0,263.9 L1111.1,253.1 L1112.2,256.2 L1113.3,245.6 L1114.4,251.6 L1115.5,249.1 L1116.6,259.2 L1117.7,266.9 L1118.8,241.4 L1119.9,236.4 L1121.0,218.7 L1122.1,228.8 L1123.2,241.8 L1124.3,252.3 L1125.4,273.5 L1126.5,261.2 L1127.6,256.9 L1128.7,279.9 L1129.8,252.8 L1130.9,228.1 L1132.0,253.5 L1133.1,239.8 L1134.2,256.0 L1135.3,259.1 L1136.4,254.6 L1137.5,251.0 L1138.6,247.1 L1139.7,234.6 L1140.8,239.7 L1141.9,233.8 L1143.0,299.3 L1144.1,267.7 L1145.2,243.6 L1146.3,274.0 L1147.4,239.1 L1148.5,258.5 L1149.6,270.8 L1150.7,267.4 L1151.8,249.5 L1152.9,258.1 L1154.0,257.6 L1155.1,276.8 L1156.2,239.2 L1157.3,241.2 L1158.4,244.5 L1159.5,260.7 L1160.6,276.4 L1161.7,275.4 L1162.8,248.2 L1163.9,277.8 L1165.0,239.3 L1166.1,267.6 L1167.2,270.3 L1168.3,255.3 L1169.4,275.2 L1170.5,254.2 L1171.6,228.5 L1172.7,246.8 L1173.8,231.1 L1174.8,263.4 L1175.9,261.0 L1177.0,246.1 L1178.1,243.4 L1179.2,277.4 L1180.3,252.1 L1181.4,237.4 L1182.5,242.8 L1183.6,286.6 L1184.7,225.5 L1185.8,244.0 L1186.9,268.0 L1188.0,246.8 L1189.1,268.4 L1190.2,241.8 L1191.3,227.5 L1192.4,256.2 L1193.5,270.9 L1194.6,269.0 L1195.7,249.7 L1196.8,271.6 L1197.9,275.4 L1199.0,255.9 L1200.1,285.5 L1201.2,245.2 L1202.3,272.4 L1203.4,244.7 L1204.5,271.7 L1205.6,237.3 L1206.7,233.5 L1207.8,262.5 L1208.9,262.3 L1210.0,276.7 L1211.1,259.6 L1212.2,275.7 L1213.3,262.0 L1214.4,232.8 L1215.5,289.0 L1216.6,281.0 L1217.7,281.5 L1218.8,265.3 L1219.9,263.6 L1221.0,282.8 L1222.1,258.5 L1223.2,261.3 L1224.3,234.4 L1225.4,255.5 L1226.5,251.7 L1227.6,232.8 L1228.7,258.8 L1229.8,270.2 L1230.9,229.2 L1232.0,272.9 L1233.1,266.1 L1234.2,244.2 L1235.3,271.3 L1236.4,266.9 L1237.5,247.9 L1238.6,288.0 L1239.7,265.1 L1240.8,278.6 L1241.9,271.9 L1243.0,256.4 L1244.1,249.6 L1245.2,252.7 L1246.3,270.6 L1247.4,275.8 L1248.5,277.6 L1249.6,324.6 L1250.7,270.1 L1251.8,289.2 L1252.9,300.9 L1254.0,271.9 L1255.1,234.6 L1256.2,280.4 L1257.3,280.6 L1258.4,292.7 L1259.5,260.8 L1260.6,275.4 L1261.7,305.8 L1262.8,253.7 L1263.9,284.9 L1265.0,245.3 L1266.1,286.4 L1267.2,266.4 L1268.3,273.1 L1269.4,275.1 L1270.5,284.1 L1271.6,352.8 L1272.7,265.9 L1273.8,268.6 L1274.9,298.3 L1276.0,296.4 L1277.1,265.3 L1278.2,328.8 L1279.3,290.1 L1280.4,289.5 L1281.5,278.2 L1282.6,293.7 L1283.7,251.2 L1284.8,273.9 L1285.9,315.9 L1287.0,315.3" stroke="#ffe326" stroke-opacity="0.7" stroke-width="2.6" class="n"/>
<path d="M1062.7,209.8 L1063.8,244.9 L1064.9,235.1 L1066.0,240.9 L1067.1,233.0 L1068.2,250.4 L1069.3,223.6 L1070.4,251.5 L1071.5,229.8 L1072.6,238.6 L1073.7,256.1 L1074.8,245.5 L1075.9,239.2 L1077.0,239.2 L1078.1,252.9 L1079.2,230.9 L1080.3,254.5 L1081.4,245.5 L1082.5,248.9 L1083.6,233.8 L1084.7,247.9 L1085.8,244.3 L1086.9,273.1 L1088.0,245.6 L1089.1,248.9 L1090.2,212.9 L1091.3,254.9 L1092.4,253.3 L1093.5,232.6 L1094.6,250.1 L1095.7,233.9 L1096.8,267.8 L1097.9,236.9 L1099.0,233.0 L1100.1,247.2 L1101.2,254.1 L1102.3,247.8 L1103.4,226.7 L1104.5,234.0 L1105.6,227.8 L1106.7,276.1 L1107.8,266.7 L1108.9,270.9 L1110.0,228.9 L1111.1,280.0 L1112.2,249.7 L1113.3,223.9 L1114.4,272.5 L1115.5,264.0 L1116.6,290.1 L1117.7,246.4 L1118.8,249.9 L1119.9,259.3 L1121.0,264.7 L1122.1,264.7 L1123.2,263.8 L1124.3,262.2 L1125.4,236.1 L1126.5,261.8 L1127.6,276.9 L1128.7,239.2 L1129.8,234.1 L1130.9,259.6 L1132.0,283.4 L1133.1,253.8 L1134.2,260.5 L1135.3,277.6 L1136.4,255.5 L1137.5,265.6 L1138.6,254.1 L1139.7,261.5 L1140.8,251.3 L1141.9,238.4 L1143.0,243.0 L1144.1,254.1 L1145.2,245.3 L1146.3,273.9 L1147.4,257.4 L1148.5,265.3 L1149.6,280.5 L1150.7,241.9 L1151.8,249.5 L1152.9,252.5 L1154.0,257.3 L1155.1,251.1 L1156.2,222.8 L1157.3,257.4 L1158.4,244.8 L1159.5,234.7 L1160.6,251.3 L1161.7,250.6 L1162.8,260.6 L1163.9,238.7 L1165.0,246.8 L1166.1,214.0 L1167.2,245.7 L1168.3,262.2 L1169.4,234.2 L1170.5,267.5 L1171.6,286.9 L1172.7,259.5 L1173.8,244.1 L1174.8,245.6 L1175.9,252.7 L1177.0,250.9 L1178.1,244.7 L1179.2,236.4 L1180.3,274.5 L1181.4,206.9 L1182.5,238.2 L1183.6,240.5 L1184.7,254.8 L1185.8,257.1 L1186.9,278.0 L1188.0,254.0 L1189.1,274.5 L1190.2,255.1 L1191.3,271.0 L1192.4,257.3 L1193.5,245.7 L1194.6,264.7 L1195.7,250.7 L1196.8,272.4 L1197.9,229.7 L1199.0,270.9 L1200.1,263.8 L1201.2,302.3 L1202.3,245.4 L1203.4,291.6 L1204.5,243.8 L1205.6,255.2 L1206.7,249.1 L1207.8,268.9 L1208.9,250.4 L1210.0,235.4 L1211.1,266.4 L1212.2,261.0 L1213.3,288.2 L1214.4,256.1 L1215.5,241.2 L1216.6,241.5 L1217.7,244.6 L1218.8,257.9 L1219.9,283.1 L1221.0,270.7 L1222.1,251.7 L1223.2,283.2 L1224.3,305.9 L1225.4,229.7 L1226.5,260.3 L1227.6,295.0 L1228.7,269.0 L1229.8,265.7 L1230.9,251.8 L1232.0,240.7 L1233.1,298.4 L1234.2,277.5 L1235.3,259.5 L1236.4,267.3 L1237.5,222.7 L1238.6,257.7 L1239.7,259.7 L1240.8,236.8 L1241.9,248.7 L1243.0,256.9 L1244.1,257.3 L1245.2,305.2 L1246.3,248.4 L1247.4,276.8 L1248.5,268.6 L1249.6,214.8 L1250.7,272.2 L1251.8,274.8 L1252.9,285.8 L1254.0,265.9 L1255.1,273.9 L1256.2,275.4 L1257.3,238.8 L1258.4,310.7 L1259.5,251.8 L1260.6,271.7 L1261.7,279.2 L1262.8,270.1 L1263.9,260.2 L1265.0,239.3 L1266.1,310.0 L1267.2,327.6 L1268.3,271.2 L1269.4,276.8 L1270.5,297.6 L1271.6,288.3 L1272.7,275.3 L1273.8,289.8 L1274.9,254.1 L1276.0,297.5 L1277.1,276.6 L1278.2,283.3 L1279.3,282.5 L1280.4,335.7 L1281.5,288.2 L1282.6,286.6 L1283.7,276.8 L1284.8,234.1 L1285.9,301.2 L1287.0,322.5" stroke="#ffe326" stroke-opacity="0.7" stroke-width="2.6" class="n"/>
<path d="M1285.0,349.4 L1286.5,336.9 L1288.0,362.3 L1289.5,360.7 L1291.0,252.0 L1292.5,369.2 L1294.0,359.8 L1295.4,312.7 L1296.9,364.2 L1298.4,346.9 L1299.9,352.7 L1301.4,349.9 L1302.9,290.0 L1304.4,302.4 L1305.9,341.5 L1307.4,344.8 L1308.9,382.2 L1310.4,338.0 L1311.9,266.3 L1313.4,333.6 L1314.9,336.3 L1316.3,311.7 L1317.8,333.3 L1319.3,299.4 L1320.8,280.6 L1322.3,354.6 L1323.8,377.8 L1325.3,290.1 L1326.8,370.2 L1328.3,348.5 L1329.8,354.3 L1331.3,361.0 L1332.8,358.0 L1334.3,347.0 L1335.8,351.7 L1337.2,310.1 L1338.7,342.4 L1340.2,300.5 L1341.7,324.9 L1343.2,336.8 L1344.7,321.6 L1346.2,341.1 L1347.7,357.5 L1349.2,310.0 L1350.7,353.7 L1352.2,304.4 L1353.7,352.2 L1355.2,340.1 L1356.6,369.9 L1358.1,320.9 L1359.6,305.8 L1361.1,323.2 L1362.6,337.9 L1364.1,339.6 L1365.6,361.8 L1367.1,320.8 L1368.6,335.6 L1370.1,376.9 L1371.6,325.9 L1373.1,376.6 L1374.6,331.4 L1376.1,399.0 L1377.5,283.1 L1379.0,401.6 L1380.5,316.0 L1382.0,274.5 L1383.5,314.0 L1385.0,235.0 L1386.5,373.5 L1388.0,230.7 L1389.5,399.1 L1391.0,306.0 L1392.5,259.1 L1394.0,277.9 L1395.5,321.2 L1396.9,374.9 L1398.4,284.7 L1399.9,270.8 L1401.4,380.8 L1402.9,350.3 L1404.4,289.6 L1405.9,328.2 L1407.4,318.9 L1408.9,227.0 L1410.4,378.9 L1411.9,379.2 L1413.4,331.5 L1414.9,402.2 L1416.4,382.8 L1417.8,418.2 L1419.3,346.6 L1420.8,382.7 L1422.3,323.2 L1423.8,351.5 L1425.3,314.5 L1426.8,315.7 L1428.3,280.2 L1429.8,381.8 L1431.3,236.5 L1432.8,288.7 L1434.3,372.2 L1435.8,322.2 L1437.2,360.4 L1438.7,145.0 L1440.2,493.0 L1441.7,366.7 L1443.2,335.3 L1444.7,417.1 L1446.2,364.8 L1447.7,308.6 L1449.2,379.9 L1450.7,313.8 L1452.2,354.4 L1453.7,332.3 L1455.2,376.6 L1456.7,343.0 L1458.1,495.7 L1459.6,57.5 L1461.1,482.2 L1462.6,384.3 L1464.1,296.0 L1465.6,391.9 L1467.1,895.5 L1468.6,434.9 L1470.1,382.3 L1471.6,378.6 L1473.1,326.7 L1474.6,563.5 L1476.1,365.4 L1477.6,477.6 L1479.0,378.2 L1480.5,866.9 L1482.0,228.8 L1483.5,414.5 L1485.0,404.5 L1486.5,465.8 L1488.0,401.8" stroke="#ff2424" stroke-opacity="0.5" stroke-width="2.6" class="n"/>
<path d="M1285.0,324.2 L1286.5,289.2 L1288.0,291.7 L1289.5,322.0 L1291.0,393.2 L1292.5,316.5 L1294.0,362.8 L1295.4,317.6 L1296.9,376.0 L1298.4,294.4 L1299.9,333.3 L1301.4,288.2 L1302.9,313.5 L1304.4,254.0 L1305.9,371.2 L1307.4,348.2 L1308.9,306.7 L1310.4,258.6 L1311.9,330.3 L1313.4,338.3 L1314.9,330.4 L1316.3,369.1 L1317.8,322.6 L1319.3,365.6 L1320.8,309.0 L1322.3,318.2 L1323.8,333.5 L1325.3,341.9 L1326.8,362.6 L1328.3,322.3 L1329.8,326.5 L1331.3,291.6 L1332.8,331.7 L1334.3,294.8 L1335.8,310.5 L1337.2,363.7 L1338.7,333.2 L1340.2,367.7 L1341.7,379.9 L1343.2,363.6 L1344.7,351.5 L1346.2,337.6 L1347.7,306.2 L1349.2,372.2 L1350.7,333.4 L1352.2,319.5 L1353.7,284.4 L1355.2,337.0 L1356.6,321.3 L1358.1,349.1 L1359.6,368.3 L1361.1,283.1 L1362.6,356.4 L1364.1,338.5 L1365.6,297.0 L1367.1,294.0 L1368.6,270.9 L1370.1,302.9 L1371.6,329.7 L1373.1,370.5 L1374.6,336.6 L1376.1,332.2 L1377.5,307.2 L1379.0,302.8 L1380.5,312.6 L1382.0,345.1 L1383.5,287.6 L1385.0,336.6 L1386.5,366.3 L1388.0,336.3 L1389.5,314.0 L1391.0,346.6 L1392.5,358.3 L1394.0,420.2 L1395.5,331.1 L1396.9,230.0 L1398.4,329.9 L1399.9,349.7 L1401.4,412.3 L1402.9,259.6 L1404.4,339.9 L1405.9,351.1 L1407.4,359.8 L1408.9,302.0 L1410.4,316.4 L1411.9,317.1 L1413.4,308.3 L1414.9,438.4 L1416.4,249.3 L1417.8,327.9 L1419.3,291.8 L1420.8,333.0 L1422.3,223.0 L1423.8,312.6 L1425.3,322.4 L1426.8,322.3 L1428.3,254.5 L1429.8,307.4 L1431.3,384.0 L1432.8,377.4 L1434.3,266.7 L1435.8,310.5 L1437.2,396.6 L1438.7,416.4 L1440.2,321.2 L1441.7,172.0 L1443.2,389.8 L1444.7,449.9 L1446.2,370.6 L1447.7,453.8 L1449.2,341.8 L1450.7,504.6 L1452.2,443.0 L1453.7,524.7 L1455.2,305.1 L1456.7,211.0 L1458.1,486.8 L1459.6,381.3 L1461.1,643.4 L1462.6,613.5 L1464.1,488.9 L1465.6,305.1 L1467.1,612.4 L1468.6,494.6 L1470.1,396.4 L1471.6,316.8 L1473.1,349.1 L1474.6,623.1 L1476.1,411.5 L1477.6,362.0 L1479.0,361.5 L1480.5,381.2 L1482.0,483.9 L1483.5,535.1 L1485.0,728.2 L1486.5,363.1 L1488.0,441.5" stroke="#ff2424" stroke-opacity="0.5" stroke-width="2.6" class="n"/>
<path d="M1285.0,278.8 L1286.5,286.3 L1288.0,281.6 L1289.5,359.9 L1291.0,309.2 L1292.5,300.9 L1294.0,297.2 L1295.4,337.7 L1296.9,335.8 L1298.4,345.6 L1299.9,294.9 L1301.4,358.5 L1302.9,356.1 L1304.4,294.4 L1305.9,352.0 L1307.4,314.4 L1308.9,310.8 L1310.4,370.8 L1311.9,329.0 L1313.4,318.1 L1314.9,250.0 L1316.3,296.8 L1317.8,334.0 L1319.3,368.7 L1320.8,310.2 L1322.3,338.4 L1323.8,319.8 L1325.3,348.7 L1326.8,342.7 L1328.3,328.5 L1329.8,291.0 L1331.3,334.2 L1332.8,349.3 L1334.3,338.6 L1335.8,326.5 L1337.2,346.7 L1338.7,334.6 L1340.2,318.4 L1341.7,347.3 L1343.2,341.4 L1344.7,341.4 L1346.2,304.0 L1347.7,383.9 L1349.2,343.2 L1350.7,357.3 L1352.2,352.6 L1353.7,392.4 L1355.2,363.9 L1356.6,289.7 L1358.1,321.4 L1359.6,353.9 L1361.1,371.1 L1362.6,358.0 L1364.1,340.9 L1365.6,308.1 L1367.1,337.8 L1368.6,315.2 L1370.1,364.2 L1371.6,411.4 L1373.1,353.1 L1374.6,371.5 L1376.1,318.7 L1377.5,288.3 L1379.0,353.0 L1380.5,305.0 L1382.0,376.1 L1383.5,293.1 L1385.0,355.1 L1386.5,332.3 L1388.0,313.6 L1389.5,285.7 L1391.0,294.8 L1392.5,306.5 L1394.0,395.9 L1395.5,305.9 L1396.9,347.1 L1398.4,371.7 L1399.9,300.4 L1401.4,285.4 L1402.9,252.6 L1404.4,176.0 L1405.9,341.7 L1407.4,377.0 L1408.9,290.2 L1410.4,376.3 L1411.9,285.3 L1413.4,369.5 L1414.9,394.9 L1416.4,347.4 L1417.8,378.5 L1419.3,306.0 L1420.8,292.7 L1422.3,303.7 L1423.8,381.2 L1425.3,271.5 L1426.8,377.8 L1428.3,443.2 L1429.8,402.2 L1431.3,438.5 L1432.8,114.0 L1434.3,309.6 L1435.8,313.0 L1437.2,362.4 L1438.7,343.7 L1440.2,460.3 L1441.7,311.5 L1443.2,503.3 L1444.7,287.9 L1446.2,379.6 L1447.7,373.9 L1449.2,423.4 L1450.7,381.8 L1452.2,397.3 L1453.7,349.1 L1455.2,164.6 L1456.7,373.9 L1458.1,392.4 L1459.6,327.0 L1461.1,296.5 L1462.6,402.2 L1464.1,349.2 L1465.6,342.0 L1467.1,398.7 L1468.6,789.9 L1470.1,658.2 L1471.6,466.7 L1473.1,277.0 L1474.6,398.7 L1476.1,403.5 L1477.6,385.1 L1479.0,380.8 L1480.5,677.6 L1482.0,763.2 L1483.5,563.6 L1485.0,466.1 L1486.5,433.4 L1488.0,425.6" stroke="#ff2424" stroke-opacity="0.5" stroke-width="2.6" class="n"/>
<path d="M557,172.7 L572,176.4 L581,178" fill="none" stroke="#b4b4ff" stroke-width="6" stroke-opacity="0.6"/>
<path d="M557,172.7 L572,176.4 L581,178" fill="none" stroke="#8a8a8a" stroke-width="1.6"/>
<path d="M143.0,115.8 L146.1,116.6 L149.2,117.5 L152.4,118.3 L155.5,119.1 L158.6,119.9 L161.8,120.8 L164.9,121.7 L168.0,122.6 L171.1,123.5 L174.2,124.5 L177.4,125.5 L180.5,126.5 L183.6,127.6 L186.8,128.6 L189.9,129.6 L193.0,130.6" class="f" stroke-width="2.8"/>
<path d="M187.0,115.0 L190.1,116.9 L193.2,118.8 L196.3,120.7 L199.4,122.4 L202.5,124.0 L205.6,125.4 L208.7,126.8 L211.8,128.1 L214.9,129.4 L218.1,130.6 L221.2,131.8 L224.3,132.8 L227.4,133.9 L230.5,134.9 L233.6,135.8 L236.7,136.6 L239.8,137.4 L242.9,138.2 L246.0,139.0" class="f" stroke-width="2.8"/>
<path d="M238.0,130.0 L241.1,130.4 L244.2,132.0 L247.3,134.1 L250.4,136.3 L253.5,138.3 L256.6,140.1 L259.7,141.7 L262.8,143.3 L265.9,144.8 L269.0,146.3 L272.2,147.6 L275.3,148.9 L278.4,150.0 L281.5,151.0 L284.6,152.0 L287.7,152.9 L290.8,153.8 L293.9,154.6 L297.0,155.5 L300.1,156.3 L303.2,157.2" class="f" stroke-width="2.8"/>
<path d="M294.5,172.9 L297.5,173.3 L300.5,173.6 L303.6,173.9 L306.6,174.3 L309.6,174.8 L312.6,175.5 L315.6,176.1 L318.7,176.8 L321.7,177.5 L324.7,178.4 L327.7,179.3 L330.8,180.3 L333.8,181.4 L336.8,182.5 L339.8,183.8 L342.8,185.1 L345.9,186.4 L348.9,187.7 L351.9,189.0 L354.9,190.2 L357.9,191.4 L361.0,192.6 L364.0,193.8 L367.0,195.0" class="f" stroke-width="2.8"/>
<path d="M367.0,195.0 L370.1,195.6 L373.1,196.1 L376.2,196.7 L379.2,197.2 L382.3,197.7 L385.3,198.2 L388.4,198.8 L391.4,199.7 L394.5,200.6 L397.5,201.6 L400.6,202.7 L403.6,203.8 L406.7,205.0 L409.8,206.1 L412.8,207.2 L415.9,208.4 L418.9,209.6 L422.0,210.9 L425.0,212.4 L428.1,214.0 L431.1,215.7 L434.2,217.6 L437.2,219.4 L440.3,221.3 L443.3,223.2 L446.4,225.0" class="f" stroke-width="2.8"/>
<path d="M446.4,225.0 L449.4,225.6 L452.5,226.3 L455.5,226.9 L458.5,227.5 L461.6,228.1 L464.6,228.7 L467.6,229.3 L470.7,230.0 L473.7,230.6 L476.8,231.3 L479.8,231.9 L482.8,232.7 L485.9,233.4 L488.9,234.2 L491.9,235.0 L495.0,235.9 L498.0,236.8 L501.0,237.8 L504.1,238.8 L507.1,239.9 L510.1,241.0 L513.2,242.2 L516.2,243.5 L519.3,244.9 L522.3,246.4 L525.3,248.0 L528.4,249.6 L531.4,251.2 L534.4,252.9 L537.5,254.5 L540.5,256.1" class="f" stroke-width="2.8"/>
<path d="M531.0,170.1 L534.2,170.4 L537.5,170.7 L540.8,171.0 L544.0,171.3 L547.2,171.6 L550.5,172.0 L553.8,172.3 L557.0,172.7" class="f" stroke-width="2.8"/>
<path d="M581.0,178.0 L584.0,178.5 L587.0,179.2 L590.1,180.6 L593.1,182.3 L596.1,184.1 L599.1,185.8 L602.2,187.3 L605.2,188.5 L608.2,189.5 L611.2,190.2 L614.3,190.9 L617.3,191.6 L620.3,192.4 L623.3,193.2 L626.4,194.0 L629.4,194.8 L632.4,195.6 L635.4,196.5 L638.5,197.5 L641.5,198.5 L644.5,199.6" class="f" stroke-width="2.8"/>
<path d="M645.0,194.0 L648.0,194.7 L651.0,195.5 L654.0,196.2 L657.0,197.0 L660.0,197.7 L663.0,198.5 L666.0,199.2 L669.0,199.9 L672.0,200.7 L675.0,201.5 L678.0,202.2 L681.0,202.9 L684.0,203.7 L687.0,204.3 L690.0,205.0 L693.0,205.6 L696.0,206.2 L699.0,206.8 L702.0,207.4 L705.0,208.0 L708.0,208.6 L711.0,209.3 L714.0,210.0 L717.0,210.7 L720.0,211.4 L723.0,212.0 L726.0,212.7 L729.0,213.4 L732.0,214.0 L735.0,214.7 L738.0,215.3 L741.0,216.0 L744.0,216.7 L747.0,217.5 L750.0,218.2 L753.0,218.9 L756.0,219.7 L759.0,220.5 L762.0,221.3 L765.0,222.1 L768.0,223.1 L771.0,224.0" class="f" stroke-width="2.8"/>
<path d="M757.0,220.5 L760.0,221.2 L763.1,221.8 L766.1,222.5 L769.2,223.2 L772.2,223.8 L775.2,224.4 L778.3,224.9 L781.3,225.4 L784.4,225.9 L787.4,226.3 L790.4,226.7 L793.5,227.2 L796.5,227.6 L799.6,228.1 L802.6,228.5 L805.7,229.0 L808.7,229.4 L811.7,229.9 L814.8,230.3 L817.8,230.8 L820.9,231.2 L823.9,231.7 L826.9,232.1 L830.0,232.5 L833.0,233.0 L836.1,233.4 L839.1,233.9 L842.1,234.5 L845.2,235.0 L848.2,235.7 L851.3,236.3 L854.3,236.9 L857.3,237.5 L860.4,238.2 L863.4,238.8 L866.5,239.5 L869.5,240.1 L872.6,240.8 L875.6,241.5 L878.6,242.1 L881.7,242.6 L884.7,243.0 L887.8,243.3 L890.8,243.5 L893.8,243.7 L896.9,243.9 L899.9,244.0 L903.0,244.2 L906.0,244.4" class="f" stroke-width="2.8"/>
<path d="M885.0,241.0 L888.0,241.3 L891.0,241.6 L894.0,241.9 L897.1,242.1 L900.1,242.4 L903.1,242.7 L906.1,243.0 L909.1,243.3 L912.1,243.6 L915.2,244.0 L918.2,244.3 L921.2,244.7 L924.2,245.2 L927.2,245.6 L930.2,246.1 L933.2,246.5 L936.3,247.0 L939.3,247.5 L942.3,248.0 L945.3,248.4 L948.3,248.9 L951.3,249.3 L954.4,249.7 L957.4,250.1 L960.4,250.5 L963.4,250.8 L966.4,251.2 L969.4,251.6 L972.4,251.9 L975.5,252.3 L978.5,252.7 L981.5,253.0 L984.5,253.4 L987.5,253.8 L990.5,254.2 L993.6,254.6 L996.6,255.0 L999.6,255.4 L1002.6,255.8 L1005.6,256.1 L1008.6,256.5 L1011.6,256.9 L1014.7,257.2 L1017.7,257.5 L1020.7,257.8 L1023.7,258.1 L1026.7,258.3 L1029.7,258.6 L1032.8,258.8 L1035.8,259.0 L1038.8,259.2 L1041.8,259.4 L1044.8,259.6 L1047.8,259.8 L1050.8,260.0 L1053.9,260.2 L1056.9,260.3 L1059.9,260.5 L1062.9,260.6 L1065.9,260.8 L1068.9,260.9 L1072.0,261.1 L1075.0,261.2 L1078.0,261.4 L1081.0,261.5" class="f" stroke-width="2.3"/>
<path d="M1062.7,237.0 L1065.7,238.6 L1068.8,240.2 L1071.8,241.8 L1074.8,243.3 L1077.9,244.7 L1080.9,245.9 L1083.9,247.0 L1086.9,247.9 L1090.0,248.8 L1093.0,249.6 L1096.0,250.2 L1099.1,250.8 L1102.1,251.4 L1105.1,251.8 L1108.2,252.3 L1111.2,252.6 L1114.2,253.0 L1117.3,253.3 L1120.3,253.6 L1123.3,253.8 L1126.4,254.1 L1129.4,254.3 L1132.4,254.4 L1135.4,254.6 L1138.5,254.7 L1141.5,254.8 L1144.5,254.8 L1147.6,254.9 L1150.6,254.9 L1153.6,254.9 L1156.7,255.0 L1159.7,255.0 L1162.7,255.0 L1165.8,255.1 L1168.8,255.2 L1171.8,255.3 L1174.8,255.4 L1177.9,255.5 L1180.9,255.7 L1183.9,255.8 L1187.0,256.0 L1190.0,256.1 L1193.0,256.3 L1196.1,256.5 L1199.1,256.7 L1202.1,256.9 L1205.2,257.2 L1208.2,257.5 L1211.2,257.8 L1214.3,258.1 L1217.3,258.5 L1220.3,259.2 L1223.3,260.0 L1226.4,260.9 L1229.4,261.8 L1232.4,262.7 L1235.5,263.6 L1238.5,264.6 L1241.5,265.5 L1244.6,266.6 L1247.6,267.7 L1250.6,269.0 L1253.7,270.3 L1256.7,271.7 L1259.7,273.2 L1262.8,274.8 L1265.8,276.5 L1268.8,278.3 L1271.8,280.2 L1274.9,282.4 L1277.9,284.7 L1280.9,287.2 L1284.0,289.6 L1287.0,292.0" class="f" stroke-width="2.3"/>
<path d="M1285.0,313.0 L1288.0,314.9 L1291.1,316.9 L1294.1,318.9 L1297.1,320.9 L1300.1,322.9 L1303.2,324.7 L1306.2,326.3 L1309.2,327.7 L1312.3,328.8 L1315.3,329.8 L1318.3,330.6 L1321.4,331.3 L1324.4,331.9 L1327.4,332.4 L1330.4,332.8 L1333.5,333.2 L1336.5,333.6 L1339.5,333.9 L1342.6,334.2 L1345.6,334.4 L1348.6,334.5 L1351.7,334.6 L1354.7,334.6 L1357.7,334.5 L1360.7,334.5 L1363.8,334.5 L1366.8,334.6 L1369.8,334.7 L1372.9,334.9 L1375.9,335.3 L1378.9,335.8 L1382.0,336.4 L1385.0,337.2 L1388.0,338.0 L1391.0,339.0 L1394.1,340.0 L1397.1,341.2 L1400.1,342.4 L1403.2,343.7 L1406.2,345.2 L1409.2,346.7 L1412.3,348.4 L1415.3,350.2 L1418.3,352.1 L1421.3,354.3 L1424.4,356.7 L1427.4,359.3 L1430.4,362.1 L1433.5,365.1 L1436.5,368.2 L1439.5,371.5 L1442.6,374.9 L1445.6,378.7 L1448.6,382.7 L1451.6,387.0 L1454.7,391.5 L1457.7,396.3 L1460.7,401.2 L1463.8,406.8 L1466.8,412.9 L1469.8,419.2 L1472.9,425.6 L1475.9,431.8 L1478.9,437.8 L1481.9,443.9 L1485.0,449.9 L1488.0,456.0" class="f" stroke-width="2.3"/>
</g>
<line x1="91.0" y1="14.5" x2="96.0" y2="14.5" class="t"/>
<line x1="1489.0" y1="14.5" x2="1484.0" y2="14.5" class="t"/>
<line x1="91.0" y1="99.7" x2="96.0" y2="99.7" class="t"/>
<line x1="1489.0" y1="99.7" x2="1484.0" y2="99.7" class="t"/>
<line x1="91.0" y1="180.9" x2="96.0" y2="180.9" class="t"/>
<line x1="1489.0" y1="180.9" x2="1484.0" y2="180.9" class="t"/>
<line x1="91.0" y1="262.5" x2="96.0" y2="262.5" class="t"/>
<line x1="1489.0" y1="262.5" x2="1484.0" y2="262.5" class="t"/>
<line x1="91.0" y1="347.8" x2="96.0" y2="347.8" class="t"/>
<line x1="1489.0" y1="347.8" x2="1484.0" y2="347.8" class="t"/>
<line x1="91.0" y1="428.9" x2="96.0" y2="428.9" class="t"/>
<line x1="1489.0" y1="428.9" x2="1484.0" y2="428.9" class="t"/>
<line x1="91.0" y1="510.3" x2="96.0" y2="510.3" class="t"/>
<line x1="1489.0" y1="510.3" x2="1484.0" y2="510.3" class="t"/>
<line x1="91.0" y1="594.8" x2="96.0" y2="594.8" class="t"/>
<line x1="1489.0" y1="594.8" x2="1484.0" y2="594.8" class="t"/>
<line x1="148.9" y1="594.8" x2="148.9" y2="589.8" class="t"/>
<line x1="148.9" y1="14.5" x2="148.9" y2="19.5" class="t"/>
<line x1="442.5" y1="594.8" x2="442.5" y2="589.8" class="t"/>
<line x1="442.5" y1="14.5" x2="442.5" y2="19.5" class="t"/>
<line x1="732.2" y1="594.8" x2="732.2" y2="589.8" class="t"/>
<line x1="732.2" y1="14.5" x2="732.2" y2="19.5" class="t"/>
<line x1="1025.4" y1="594.8" x2="1025.4" y2="589.8" class="t"/>
<line x1="1025.4" y1="14.5" x2="1025.4" y2="19.5" class="t"/>
<line x1="1315.4" y1="594.8" x2="1315.4" y2="589.8" class="t"/>
<line x1="1315.4" y1="14.5" x2="1315.4" y2="19.5" class="t"/>
<rect x="1488" y="15" width="8" height="579.8" fill="#c9c9c9"/>
<path d="M1491.0,14.5 L91.0,14.5 L91.0,594.8 L1489.0,594.8" class="sp"/>
<text id="t_y1.0" x="41.75" y="22.87" textLength="40.67" lengthAdjust="spacingAndGlyphs" class="tx" style="font-size:29.32px">1.0</text>
<text id="t_y0.9" x="41.57" y="105.16" textLength="41.18" lengthAdjust="spacingAndGlyphs" class="tx" style="font-size:26.03px">0.9</text>
<text id="t_y0.8" x="41.55" y="189.49" textLength="40.94" lengthAdjust="spacingAndGlyphs" class="tx" style="font-size:30.59px">0.8</text>
<text id="t_y0.7" x="41.10" y="271.35" textLength="41.05" lengthAdjust="spacingAndGlyphs" class="tx" style="font-size:30.98px">0.7</text>
<text id="t_y0.6" x="41.55" y="353.09" textLength="40.89" lengthAdjust="spacingAndGlyphs" class="tx" style="font-size:26.54px">0.6</text>
<text id="t_y0.5" x="41.44" y="436.91" textLength="41.18" lengthAdjust="spacingAndGlyphs" class="tx" style="font-size:30.93px">0.5</text>
<text id="t_y0.4" x="41.43" y="519.35" textLength="40.72" lengthAdjust="spacingAndGlyphs" class="tx" style="font-size:30.98px">0.4</text>
<text id="t_y0.3" x="41.63" y="600.27" textLength="40.89" lengthAdjust="spacingAndGlyphs" class="tx" style="font-size:25.80px">0.3</text>
<text id="t_x5" x="142.16" y="620.14" textLength="13.63" lengthAdjust="spacingAndGlyphs" class="tx" style="font-size:26.56px">5</text>
<text id="t_x10" x="425.11" y="620.05" textLength="31.50" lengthAdjust="spacingAndGlyphs" class="tx" style="font-size:26.76px">10</text>
<text id="t_x15" x="717.09" y="620.05" textLength="32.83" lengthAdjust="spacingAndGlyphs" class="tx" style="font-size:26.76px">15</text>
<text id="t_x20" x="1007.84" y="620.05" textLength="32.01" lengthAdjust="spacingAndGlyphs" class="tx" style="font-size:25.82px">20</text>
<text id="t_x25" x="1300.61" y="620.05" textLength="32.38" lengthAdjust="spacingAndGlyphs" class="tx" style="font-size:26.76px">25</text>
<text id="t_1A" x="142.11" y="177.25" textLength="34.40" lengthAdjust="spacingAndGlyphs" class="tx" style="font-size:30.93px">1A</text>
<text id="t_1B" x="196.20" y="185.67" textLength="33.05" lengthAdjust="spacingAndGlyphs" class="tx" style="font-size:30.36px">1B</text>
<text id="t_1C" x="246.26" y="209.25" textLength="32.65" lengthAdjust="spacingAndGlyphs" class="tx" style="font-size:30.97px">1C</text>
<text id="t_2A" x="310.69" y="244.43" textLength="36.59" lengthAdjust="spacingAndGlyphs" class="tx" style="font-size:30.36px">2A</text>
<text id="t_2B" x="385.17" y="274.70" textLength="35.78" lengthAdjust="spacingAndGlyphs" class="tx" style="font-size:30.93px">2B</text>
<text id="t_2C" x="466.89" y="301.70" textLength="35.11" lengthAdjust="spacingAndGlyphs" class="tx" style="font-size:31.09px">2C</text>
<text id="t_3A" x="565.64" y="236.70" textLength="35.56" lengthAdjust="spacingAndGlyphs" class="tx" style="font-size:30.93px">3A</text>
<text id="t_3B" x="677.99" y="258.99" textLength="33.29" lengthAdjust="spacingAndGlyphs" class="tx" style="font-size:28.49px">3B</text>
<text id="t_3C" x="814.16" y="286.69" textLength="32.15" lengthAdjust="spacingAndGlyphs" class="tx" style="font-size:31.27px">3C</text>
<text id="t_4A" x="962.13" y="309.06" textLength="33.10" lengthAdjust="spacingAndGlyphs" class="tx" style="font-size:29.70px">4A</text>
<text id="t_4B" x="1142.03" y="340.69" textLength="34.21" lengthAdjust="spacingAndGlyphs" class="tx" style="font-size:31.78px">4B</text>
<text id="t_4C" x="1355.56" y="507.69" textLength="35.96" lengthAdjust="spacingAndGlyphs" class="tx" style="font-size:31.78px">4C</text>
<text id="t_wl" x="661.54" y="658.60" textLength="178.08" lengthAdjust="spacingAndGlyphs" class="tx" style="font-size:30.48px">Wavelength</text>
<text id="t_lb" x="850.09" y="655.15" textLength="6.32" lengthAdjust="spacingAndGlyphs" class="tx" style="font-size:26.68px;stroke-width:1.6px">[</text>
<text id="t_mu" x="862.63" y="657.38" textLength="13.46" lengthAdjust="spacingAndGlyphs" class="tx" style="font-size:22.87px" font-style="italic">μ</text>
<text id="t_mm" x="879.62" y="657.44" textLength="29.64" lengthAdjust="spacingAndGlyphs" class="tx" style="font-size:30.35px">m</text>
<text id="t_rb" x="913.40" y="655.15" textLength="5.85" lengthAdjust="spacingAndGlyphs" class="tx" style="font-size:26.68px;stroke-width:1.6px">]</text>
<text transform="translate(26.6,343.8) rotate(-90)" x="0" y="0" textLength="76.5" lengthAdjust="spacingAndGlyphs" class="tx" style="font-size:30px">Ratio</text>
</g>
</svg>
</body></html>
